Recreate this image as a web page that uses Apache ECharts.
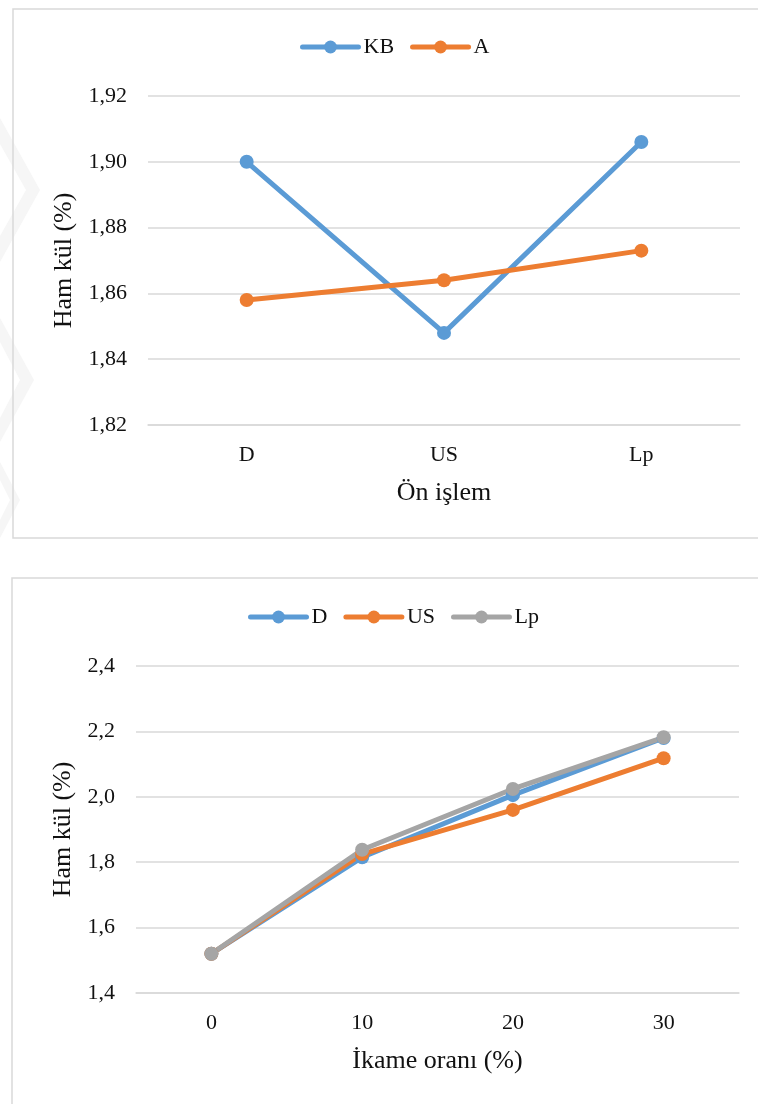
<!DOCTYPE html>
<html>
<head>
<meta charset="utf-8">
<script src="https://cdn.jsdelivr.net/npm/echarts@6/dist/echarts.min.js"></script>
<style>
  html, body { margin: 0; padding: 0; background: #fff; }
  #chart { width: 758px; height: 1104px; }
</style>
</head>
<body>
<div id="chart"></div>
<script>
// Top panel: ash content by pre-treatment
const treatments = ['D', 'US', 'Lp'];
const seriesKB = [1.900, 1.848, 1.906];
const seriesA = [1.858, 1.864, 1.873];
const topTicks = { min: 1.82, max: 1.92, step: 0.02 };

// Bottom panel: ash content by substitution rate
const rates = ['0', '10', '20', '30'];
const seriesD = [1.52, 1.815, 2.005, 2.180];
const seriesUS = [1.52, 1.825, 1.960, 2.118];
const seriesLp = [1.52, 1.838, 2.024, 2.182];
const bottomTicks = { min: 1.4, max: 2.4, step: 0.2 };

const FONT = 'Liberation Serif, Times New Roman, serif';
const TXT = '#111';
const GRID_LINE = '#d9d9d9';
const BLUE = '#5b9bd5', ORANGE = '#ed7d31', GRAY = '#a5a5a5';

function lineSeries(name, data, color, idx) {
  return {
    name, type: 'line', data,
    xAxisIndex: idx, yAxisIndex: idx,
    symbol: 'circle', symbolSize: 14,
    lineStyle: { width: 5, color },
    itemStyle: { color },
    emphasis: { disabled: true },
    animation: false
  };
}

function yAxis(idx, t, digits, gap) {
  return {
    type: 'value', gridIndex: idx,
    min: t.min, max: t.max, interval: t.step,
    name: 'Ham kül (%)', nameLocation: 'middle', nameRotate: 90, nameGap: gap,
    nameTextStyle: { fontFamily: FONT, fontSize: 26, color: TXT },
    axisLine: { show: false }, axisTick: { show: false },
    axisLabel: {
      fontFamily: FONT, fontSize: 22, color: TXT, margin: 21,
      formatter: v => v.toFixed(digits).replace('.', ',')
    },
    splitLine: { lineStyle: { color: GRID_LINE, width: 1.5 } }
  };
}

function xAxis(idx, cats, title) {
  return {
    type: 'category', gridIndex: idx, data: cats, boundaryGap: true,
    name: title, nameLocation: 'middle', nameGap: 55,
    nameTextStyle: { fontFamily: FONT, fontSize: 26, color: TXT },
    axisLine: { show: true, lineStyle: { color: GRID_LINE, width: 1.5 } },
    axisTick: { show: false },
    axisLabel: { fontFamily: FONT, fontSize: 22, color: TXT, margin: 19 }
  };
}

const legendBase = {
  orient: 'horizontal', itemWidth: 56, itemHeight: 16, itemGap: 16,
  lineStyle: { width: 5, cap: 'round' },
  textStyle: { fontFamily: FONT, fontSize: 22, color: TXT },
  selectedMode: false
};

// faint chevron marks along the left margin
const mark = '#f6f6f6';
const chevrons = [
  [[0, 118], [40, 190], [0, 262], [0, 236], [26, 190], [0, 144]],
  [[0, 318], [34, 380], [0, 442], [0, 418], [20, 380], [0, 342]],
  [[0, 462], [20, 500], [0, 538], [0, 520], [10, 500], [0, 480]]
].map(pts => ({ type: 'polygon', shape: { points: pts }, style: { fill: mark }, z: -2, silent: true }));

const chart = echarts.init(document.getElementById('chart'), null, { renderer: 'canvas' });
chart.setOption({
  backgroundColor: '#fff',
  animation: false,
  graphic: chevrons.concat([
    { type: 'rect', shape: { x: 13, y: 9, width: 800, height: 529 },
      style: { fill: 'none', stroke: GRID_LINE, lineWidth: 1.5 }, z: -1 },
    { type: 'rect', shape: { x: 12, y: 578, width: 800, height: 600 },
      style: { fill: 'none', stroke: GRID_LINE, lineWidth: 1.5 }, z: -1 }
  ]),
  legend: [
    Object.assign({}, legendBase, { data: ['KB', 'A'], left: 295, top: 31 }),
    Object.assign({}, legendBase, { data: ['D', 'US', 'Lp'], left: 243, top: 601 })
  ],
  grid: [
    { left: 148, right: 18, top: 96, bottom: 1104 - 425 },
    { left: 136, right: 19, top: 666, bottom: 1104 - 993 }
  ],
  xAxis: [xAxis(0, treatments, 'Ön işlem'), xAxis(1, rates, 'İkame oranı (%)')],
  yAxis: [yAxis(0, topTicks, 2, 70), yAxis(1, bottomTicks, 1, 58)],
  series: [
    lineSeries('KB', seriesKB, BLUE, 0),
    lineSeries('A', seriesA, ORANGE, 0),
    lineSeries('D', seriesD, BLUE, 1),
    lineSeries('US', seriesUS, ORANGE, 1),
    lineSeries('Lp', seriesLp, GRAY, 1)
  ]
});
</script>
</body>
</html>
